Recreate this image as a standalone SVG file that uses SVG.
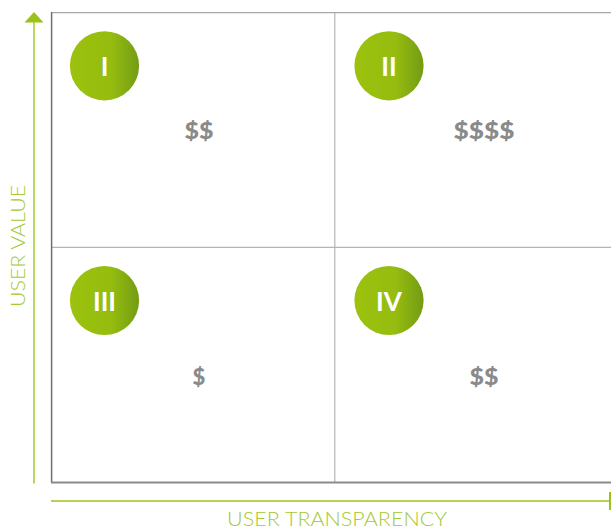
<svg xmlns="http://www.w3.org/2000/svg" width="611" height="529" viewBox="0 0 611 529">
  <defs>
    <linearGradient id="badge" x1="0" y1="0" x2="1" y2="0">
      <stop offset="0" stop-color="#9cc20e"/>
      <stop offset="0.6" stop-color="#95bc0f"/>
      <stop offset="1" stop-color="#739c14"/>
    </linearGradient>
    <style>
      .badge { fill: url(#badge); }
      .num { fill: #ffffff; font-family: Lato, "Liberation Sans", sans-serif; font-weight: 700; font-size: 26px; text-anchor: middle; }
      .price { fill: #8a8a8a; font-family: Lato, "Liberation Sans", sans-serif; font-weight: 900; font-size: 22px; text-anchor: middle; }
      .axis-label { fill: #a3c834; font-family: Lato, "Open Sans", sans-serif; font-weight: 300; font-size: 20px; text-anchor: middle; }
      .divider { stroke: #b4b4b4; stroke-width: 1.2; fill: none; }
    </style>
  </defs>

  <rect width="611" height="529" fill="#ffffff"/>

  <!-- quadrant frame and dividers -->
  <g id="grid">
    <line class="divider" x1="334.8" y1="12" x2="334.8" y2="482"/>
    <line class="divider" x1="51" y1="247.3" x2="611" y2="247.3"/>
    <line x1="51" y1="12.6" x2="611" y2="12.6" stroke="#a8a8a8" stroke-width="1.3"/>
    <line x1="51.6" y1="12" x2="51.6" y2="483" stroke="#6f6f6f" stroke-width="1.5"/>
    <line x1="51" y1="482.5" x2="611" y2="482.5" stroke="#8a8a8a" stroke-width="2"/>
  </g>

  <!-- axes -->
  <g id="connectors">
    <line x1="34" y1="20" x2="34" y2="483.5" stroke="#bcd760" stroke-width="2"/>
    <polygon points="34,12 43.5,22.5 24.5,22.5" fill="#9cc21a"/>
    <line x1="51" y1="501" x2="610" y2="501" stroke="#9cc21a" stroke-width="1.6"/>
    <line x1="610" y1="492" x2="610" y2="510" stroke="#9cc21a" stroke-width="2"/>
  </g>

  <g id="label-y">
    <text class="axis-label" transform="translate(25,246) rotate(-90)" textLength="122" lengthAdjust="spacingAndGlyphs">USER VALUE</text>
  </g>
  <g id="label-x">
    <text class="axis-label" x="337" y="526" textLength="220" lengthAdjust="spacingAndGlyphs">USER TRANSPARENCY</text>
  </g>

  <!-- quadrants -->
  <g id="quadrant-1">
    <circle class="badge" cx="104.5" cy="65.8" r="34.6"/>
    <text class="num" x="104.5" y="76">I</text>
    <text class="price" x="199" y="139" textLength="29" lengthAdjust="spacingAndGlyphs">$$</text>
  </g>
  <g id="quadrant-2">
    <circle class="badge" cx="389" cy="65.8" r="34.6"/>
    <text class="num" x="389" y="76">II</text>
    <text class="price" x="484" y="139" textLength="61" lengthAdjust="spacingAndGlyphs">$$$$</text>
  </g>
  <g id="quadrant-3">
    <circle class="badge" cx="104.5" cy="300.5" r="34.6"/>
    <text class="num" x="104.5" y="310.5">III</text>
    <text class="price" x="199" y="385">$</text>
  </g>
  <g id="quadrant-4">
    <circle class="badge" cx="389" cy="300.5" r="34.6"/>
    <text class="num" x="389" y="310.5">IV</text>
    <text class="price" x="484" y="385" textLength="29" lengthAdjust="spacingAndGlyphs">$$</text>
  </g>
</svg>
